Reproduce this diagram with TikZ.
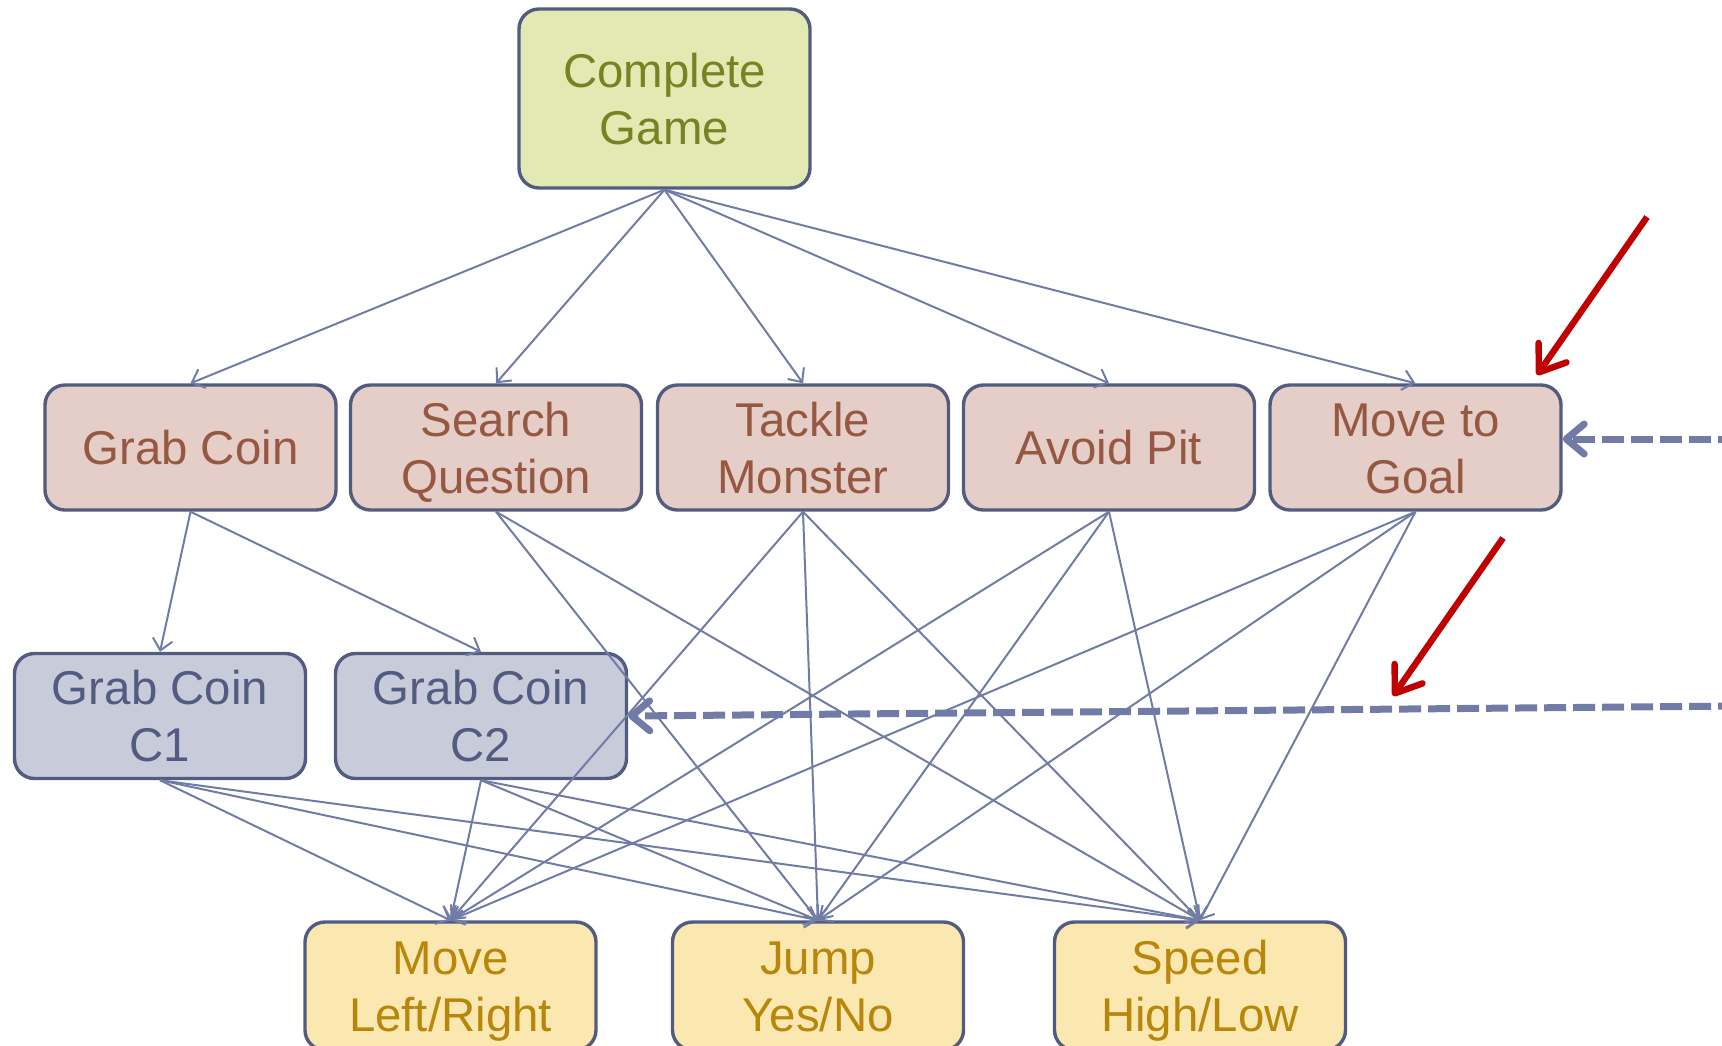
\documentclass[tikz,border=0pt]{standalone}
\usepackage{fontspec}
\setmainfont{Liberation Sans}
\usetikzlibrary{arrows.meta}
\definecolor{bordercol}{RGB}{82,92,128}
\definecolor{conncol}{RGB}{112,124,166}
\definecolor{greenfill}{RGB}{227,233,178}
\definecolor{greentext}{RGB}{118,131,35}
\definecolor{pinkfill}{RGB}{228,206,199}
\definecolor{pinktext}{RGB}{150,88,66}
\definecolor{bluefill}{RGB}{200,203,218}
\definecolor{bluetext}{RGB}{82,92,128}
\definecolor{yellowfill}{RGB}{251,232,176}
\definecolor{yellowtext}{RGB}{184,134,11}
\definecolor{redarrow}{RGB}{192,0,0}
\newcommand\lstr{\rule[-5.5pt]{0pt}{28pt}}
\begin{document}
\begin{tikzpicture}[x=0.5pt,y=-0.5pt,
  box/.style={draw=bordercol, line width=1.7pt, rounded corners=10pt,
    minimum width=145.5pt, minimum height=62.5pt, align=center, inner sep=0pt,
    font=\fontsize{23.7}{28.5}\selectfont},
  topbox/.style={box, fill=greenfill, text=greentext, minimum height=89.5pt},
  midbox/.style={box, fill=pinkfill, text=pinktext},
  subbox/.style={box, fill=bluefill, text=bluetext},
  botbox/.style={box, fill=yellowfill, text=yellowtext, minimum height=64pt},
  conn/.style={draw=conncol, line width=1pt, -{Straight Barb[length=5.5pt,width=10pt]}},
  dasharrow/.style={draw=conncol, line width=3.5pt, dash pattern=on 11pt off 3.5pt,
    -{Straight Barb[length=9pt,width=15pt,line cap=round,line join=round]}},
  redarr/.style={draw=redarrow, line width=3.2pt,
    -{Straight Barb[length=12pt,width=17pt,line cap=round,line join=round]}}
]
\useasboundingbox (0,0) rectangle (1722,1045);
\clip (0,0) rectangle (1722,1045);

\node[topbox] (cg) at (664.5,98.5) {\lstr Complete\\\lstr Game};

\node[midbox] (gc) at (190.5,447.5) {\lstr Grab Coin};
\node[midbox] (sq) at (496,447.5) {\lstr Search\\\lstr Question};
\node[midbox] (tm) at (803,447.5) {\lstr Tackle\\\lstr Monster};
\node[midbox] (ap) at (1109,447.5) {\lstr Avoid Pit};
\node[midbox] (mg) at (1415.5,447.5) {\lstr Move to\\\lstr Goal};

\node[subbox] (c1) at (160,716) {\lstr Grab Coin\\\lstr C1};
\node[subbox] (c2) at (481,716) {\lstr Grab Coin\\\lstr C2};

\node[botbox] (ml) at (450.5,986) {\lstr Move\\\lstr Left/Right};
\node[botbox] (jy) at (818,986) {\lstr Jump\\\lstr Yes/No};
\node[botbox] (sp) at (1200,986) {\lstr Speed\\\lstr High/Low};

% top level edges
\foreach \t in {gc,sq,tm,ap,mg}
  \draw[conn] (cg.south) -- (\t.north);

% grab coin sub-goals
\draw[conn] (gc.south) -- (c1.north);
\draw[conn] (gc.south) -- (c2.north);

% search question
\draw[conn] (sq.south) -- (jy.north);
\draw[conn] (sq.south) -- (sp.north);

% others to all three primitives
\foreach \s in {tm,ap,mg,c1,c2}
  \foreach \t in {ml,jy,sp}
    \draw[conn] (\s.south) -- (\t.north);

% dashed arrows from the right
\coordinate (d1) at (1740,439);
\coordinate (d2) at (1740,706);
\draw[dasharrow] (d1) -- (mg.east |- d1);
\draw[dasharrow] (d2) -- (c2.east);

% red arrows
\coordinate (r1s) at (1647,217);
\coordinate (r1e) at (1537,375);
\coordinate (r2s) at (1503,538);
\coordinate (r2e) at (1393,696);
\draw[redarr] (r1s) -- (r1e);
\draw[redarr] (r2s) -- (r2e);
\end{tikzpicture}
\end{document}
